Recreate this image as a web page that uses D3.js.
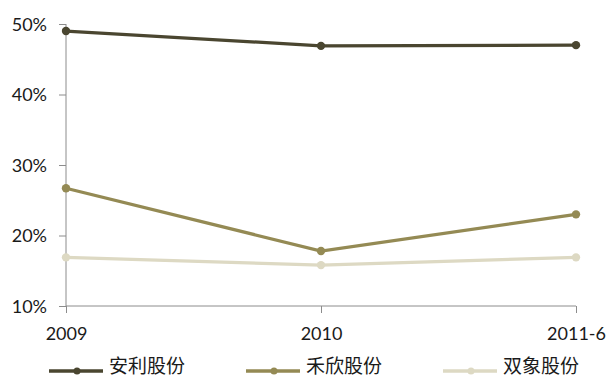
<html>
<head>
<meta charset="utf-8">
<style>
  html, body { margin: 0; padding: 0; background: #fff; }
  svg text { font-family: Lato, "Noto Sans CJK SC", sans-serif; fill: #1a1a1a; }
</style>
<script src="https://d3js.org/d3.v7.min.js"></script>
</head>
<body>
<script>
  var categories = ["2009", "2010", "2011-6"];
  var seriesNames = ["安利股份", "禾欣股份", "双象股份"];
  var anli = [49.0, 46.9, 47.0];
  var hexin = [26.7, 17.8, 23.0];
  var shuangxiang = [16.9, 15.8, 16.9];
  var yTicks = [10, 20, 30, 40, 50];
  var colors = ["#4a4630", "#948a54", "#ddd9c3"];

  var width = 608, height = 378;
  var svg = d3.select("body").append("svg").attr("width", width).attr("height", height);

  var x = d3.scalePoint().domain(categories).range([66, 576]);
  var y = d3.scaleLinear().domain([10, 50]).range([306, 24]);

  // y axis
  var yAxis = svg.append("g").attr("transform", "translate(66,0)")
    .call(d3.axisLeft(y).tickValues(yTicks).tickSize(7).tickFormat(d => d + "%"));
  yAxis.select(".domain").attr("stroke", "#8c8c8c").attr("d", "M0,24V306");
  yAxis.selectAll(".tick line").attr("stroke", "#8c8c8c");
  yAxis.selectAll(".tick text").attr("x", -19).attr("dy", "0.36em")
    .style("font-size", "18px").style("font-family", "Lato, sans-serif").attr("fill", "#1a1a1a");

  // x axis
  var xAxis = svg.append("g").attr("transform", "translate(0,306)")
    .call(d3.axisBottom(x).tickSize(7).tickFormat(d => d));
  xAxis.select(".domain").attr("stroke", "#8c8c8c").attr("d", "M66,0H576");
  xAxis.selectAll(".tick line").attr("stroke", "#8c8c8c");
  xAxis.selectAll(".tick text").attr("y", 34).attr("dy", 0)
    .style("font-size", "18px").style("font-family", "Lato, sans-serif").attr("fill", "#1a1a1a");

  var data = [anli, hexin, shuangxiang];
  var line = d3.line().x((d, i) => x(categories[i])).y(d => y(d));

  // draw back to front
  [2, 1, 0].forEach(function (k) {
    var g = svg.append("g");
    g.append("path").datum(data[k]).attr("d", line)
      .attr("fill", "none").attr("stroke", colors[k]).attr("stroke-width", 3.2);
    g.selectAll("circle").data(data[k]).enter().append("circle")
      .attr("cx", (d, i) => x(categories[i])).attr("cy", d => y(d))
      .attr("r", 4.2).attr("fill", colors[k]);
  });

  // legend
  var legendX = [49, 246, 443];
  var legend = svg.append("g");
  seriesNames.forEach(function (name, k) {
    var lg = legend.append("g").attr("transform", "translate(" + legendX[k] + ",371)");
    lg.append("line").attr("x1", 0).attr("x2", 54).attr("y1", 0).attr("y2", 0)
      .attr("stroke", colors[k]).attr("stroke-width", 3.5);
    lg.append("circle").attr("cx", 28).attr("cy", 0).attr("r", 3.5).attr("fill", colors[k]);
    lg.append("text").attr("x", 60).attr("y", 2).text(name)
      .style("font-size", "19px").style("font-family", "'Noto Sans CJK SC', sans-serif");
  });
</script>
</body>
</html>
